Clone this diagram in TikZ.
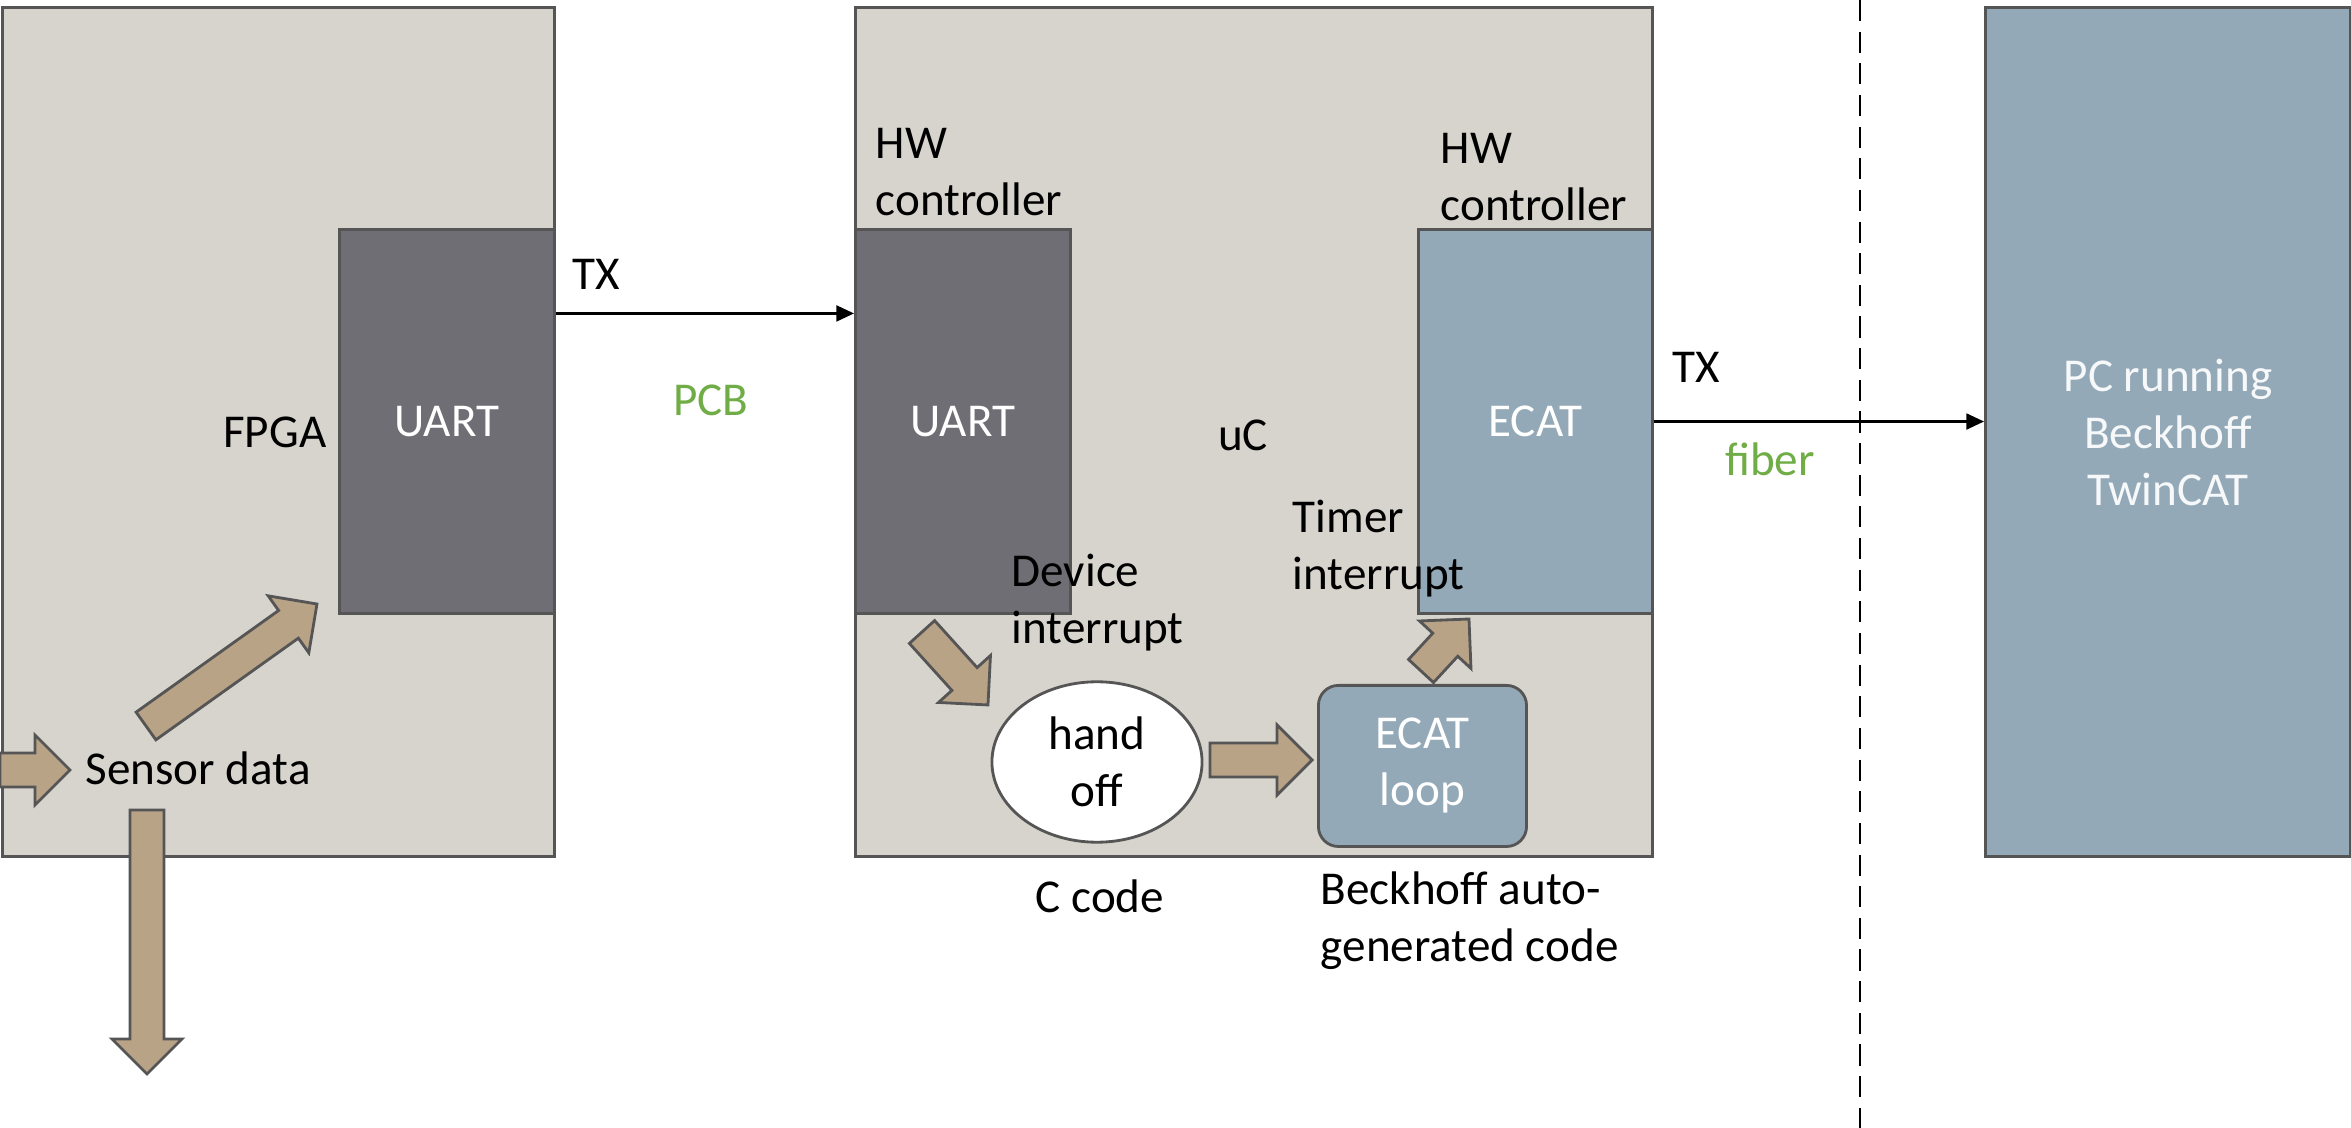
\documentclass[tikz,border=0pt]{standalone}
\usepackage{fontspec}
\setmainfont{Carlito}
\usetikzlibrary{positioning, arrows.meta, shapes.geometric}
\definecolor{boardColor}{RGB}{215,212,205}
\definecolor{uartColor}{RGB}{111,110,116}
\definecolor{ecatColor}{RGB}{147,169,184}
\definecolor{arrowColor}{RGB}{185,163,135}
\definecolor{borderColor}{RGB}{85,85,85}
\definecolor{linkGreen}{RGB}{112,173,71}
\tikzstyle{pixels} = [x = 0.01cm, y = -0.01cm, font=\fontsize{13.4}{16.2}\selectfont]
\tikzstyle{boardStyle} = [draw=borderColor, fill=boardColor, line width=0.8pt, anchor=north west, inner sep=0, minimum height=8.49cm]
\tikzstyle{uartStyle} = [draw=borderColor, fill=uartColor, line width=0.8pt, anchor=north west, inner sep=0, minimum height=3.84cm, minimum width=2.15cm]
\tikzstyle{ecatStyle} = [draw=borderColor, fill=ecatColor, line width=0.8pt, anchor=north west, inner sep=0]
\tikzstyle{blockArrowStyle} = [draw=borderColor, fill=arrowColor, line width=0.8pt]
\tikzstyle{txLine} = [-{Triangle[length=5pt, width=4.5pt]}, line width=0.7pt]
\tikzstyle{labelText} = [align=left, inner sep=0, anchor=west]
\tikzstyle{whiteText} = [color=white, align=center, inner sep=0]
\tikzstyle{greenText} = [color=linkGreen, inner sep=0]
\newcommand{\headLength}{35}
\newcommand{\shaftHalf}{17}
\newcommand{\headHalf}{35}
\newcommand{\blockArrow}[4]{
  \pgfmathsetmacro{\arrowLength}{veclen(#3-#1,#4-#2)}
  \pgfmathsetmacro{\arrowAngle}{atan2(#2-#4,#3-#1)}
  \filldraw [blockArrowStyle, shift={(#1,#2)}, rotate=\arrowAngle] (0,-\shaftHalf) -- (\arrowLength-\headLength,-\shaftHalf) -- (\arrowLength-\headLength,-\headHalf) -- (\arrowLength,0) -- (\arrowLength-\headLength,\headHalf) -- (\arrowLength-\headLength,\shaftHalf) -- (0,\shaftHalf) -- cycle;
}

\begin{document}
\begin{tikzpicture}[pixels]
  \useasboundingbox (0,0) rectangle (2351,1128);
  % boards
  \node [boardStyle, minimum width=5.52cm] (fpga) at (1,6) {};
  \node [boardStyle, minimum width=7.97cm] (uc) at (854,6) {};
  \node [ecatStyle, minimum width=3.65cm, minimum height=8.49cm] (pc) at (1984,6) {};
  \draw [dashed, line width=0.6pt, dash pattern=on 6pt off 3pt] (1860,0) -- (1860,1128);

  % hardware blocks
  \node [uartStyle] (uartFpga) at (338,228) {};
  \node [uartStyle] (uartUc) at (854,228) {};
  \node [ecatStyle, minimum width=2.34cm, minimum height=3.84cm] (ecat) at (1417,228) {};
  \node [draw=borderColor, fill=white, line width=0.8pt, ellipse, minimum width=2.1cm, minimum height=1.59cm, align=center] (handOff) at (1097,762) {hand\\off};
  \node [ecatStyle, rounded corners=0.2cm, minimum width=2.08cm, minimum height=1.61cm] (ecatLoop) at (1317,684) {};

  % links
  \draw [txLine] ([yshift=1.08cm]uartFpga.east) -- ([yshift=1.08cm]uartUc.west);
  \draw [txLine] (ecat.east) -- (ecat.east -| pc.west);

  % block arrows
  \blockArrow{0}{770}{70}{770}
  \blockArrow{146}{726}{317}{604}
  \blockArrow{147}{810}{147}{1074}
  \blockArrow{922}{632}{988}{705}
  \blockArrow{1210}{760}{1312}{760}
  \blockArrow{1421}{671}{1469}{619}

  % labels
  \node [whiteText] (uartFpgaText) at (uartFpga) {UART};
  \node [whiteText] (uartUcText) at (uartUc) {UART};
  \node [whiteText] (ecatText) at (ecat) {ECAT};
  \node [whiteText] (ecatLoopText) at (ecatLoop) {ECAT\\loop};
  \node [whiteText, color=white!92!ecatColor] (pcText) at (pc) {PC running\\Beckhoff\\TwinCAT};
  \node [labelText, anchor=east] (fpgaText) at (327,432) {FPGA};
  \node [labelText] (txFpga) at (572,274) {TX};
  \node [greenText] (pcbText) at (711,400) {PCB};
  \node [labelText] (hwUart) at (875,172) {HW\\controller};
  \node [labelText] (hwEcat) at (1440,177) {HW\\controller};
  \node (ucText) at (1243,435) {uC};
  \node [labelText] (txEcat) at (1672,367) {TX};
  \node [greenText] (fiberText) at (1770,459) {fiber};
  \node [labelText] (timerText) at (1292,549) {Timer\\interrupt};
  \node [labelText] (deviceText) at (1011,603) {Device\\interrupt};
  \node (cCode) at (1100,896) {C code};
  \node [labelText] (autoCode) at (1320,921) {Beckhoff auto-\\generated code};
  \node [labelText] (sensorText) at (85,768) {Sensor data};
\end{tikzpicture}
\end{document}
